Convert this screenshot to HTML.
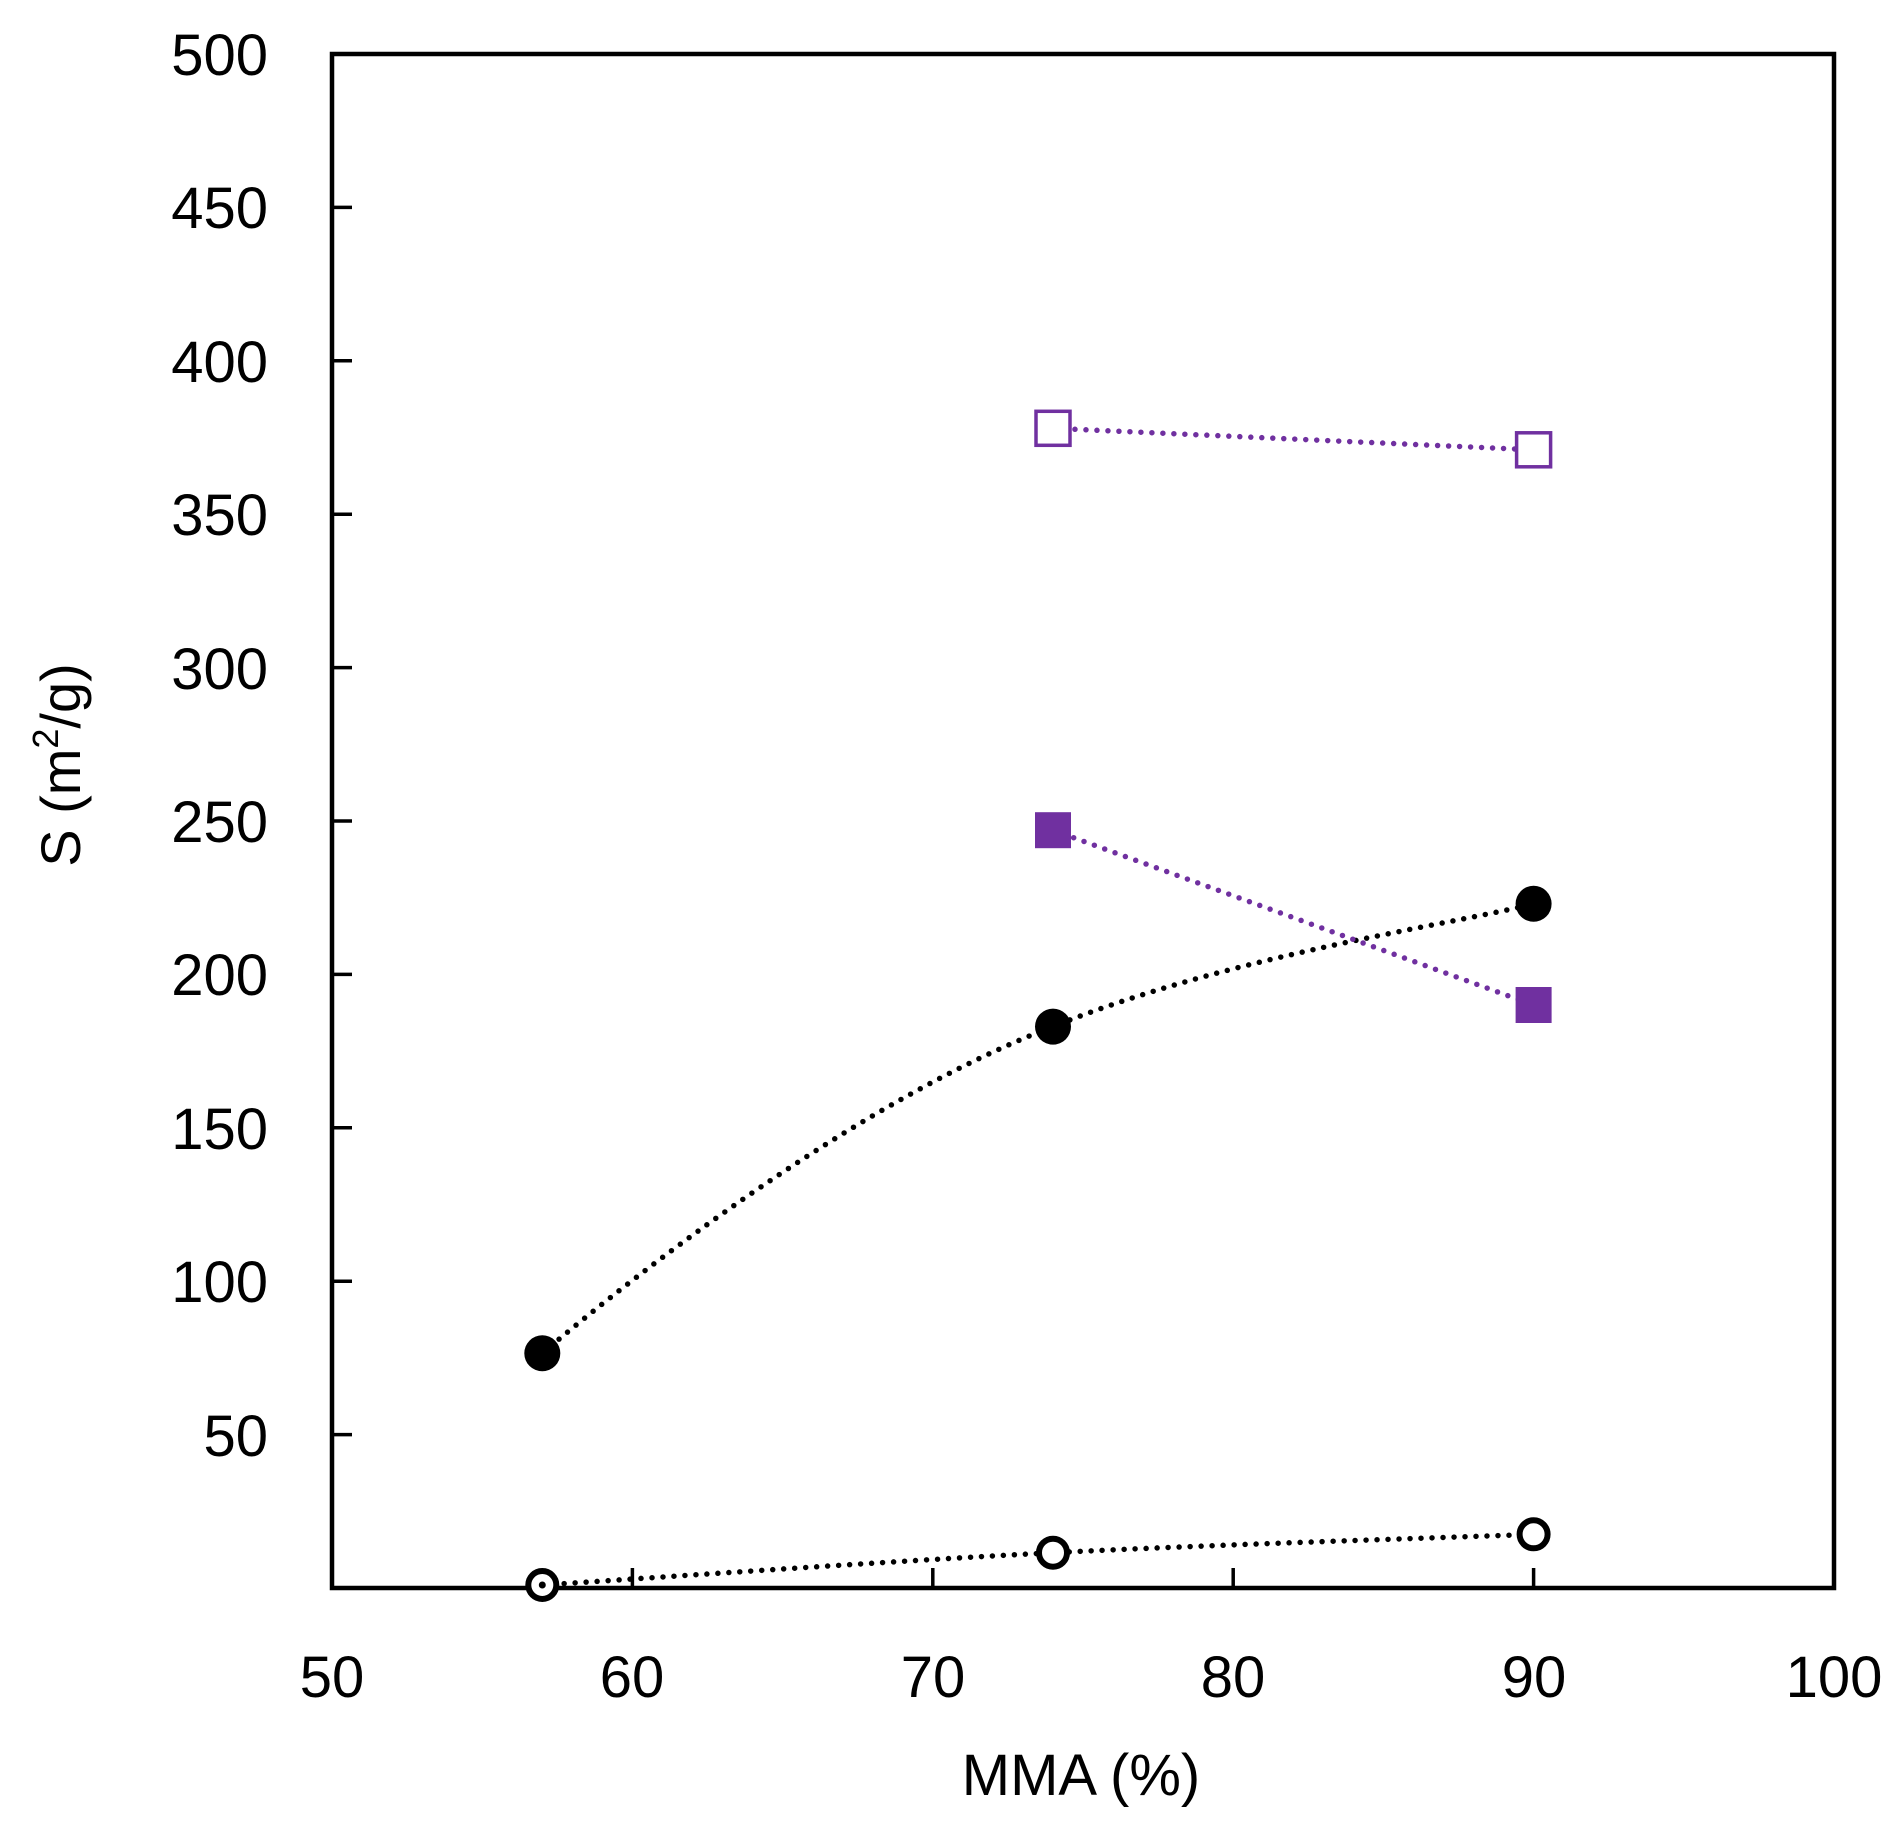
<!DOCTYPE html>
<html><head><style>body{margin:0;background:#fff}svg{display:block}</style></head>
<body>
<svg width="1904" height="1825" xmlns="http://www.w3.org/2000/svg" font-family="'Liberation Sans', sans-serif">
<rect width="1904" height="1825" fill="#fff"/>
<rect x="332" y="54" width="1502" height="1534" fill="none" stroke="#000" stroke-width="4.5"/>
<g stroke="#000" stroke-width="3.5">
<line x1="332" y1="207.4" x2="352" y2="207.4"/><line x1="332" y1="360.8" x2="352" y2="360.8"/>
<line x1="332" y1="514.2" x2="352" y2="514.2"/><line x1="332" y1="667.6" x2="352" y2="667.6"/>
<line x1="332" y1="821" x2="352" y2="821"/><line x1="332" y1="974.4" x2="352" y2="974.4"/>
<line x1="332" y1="1127.8" x2="352" y2="1127.8"/><line x1="332" y1="1281.2" x2="352" y2="1281.2"/>
<line x1="332" y1="1434.6" x2="352" y2="1434.6"/>
<line x1="632.4" y1="1588" x2="632.4" y2="1568"/><line x1="932.8" y1="1588" x2="932.8" y2="1568"/>
<line x1="1233.2" y1="1588" x2="1233.2" y2="1568"/><line x1="1533.6" y1="1588" x2="1533.6" y2="1568"/>
</g>
<g font-size="58" text-anchor="end" fill="#000">
<text x="268" y="75">500</text><text x="268" y="228">450</text><text x="268" y="382">400</text>
<text x="268" y="535">350</text><text x="268" y="689">300</text><text x="268" y="842">250</text>
<text x="268" y="995">200</text><text x="268" y="1149">150</text><text x="268" y="1302">100</text>
<text x="268" y="1456">50</text>
</g>
<g font-size="58" text-anchor="middle" fill="#000">
<text x="332" y="1697">50</text><text x="632" y="1697">60</text><text x="933" y="1697">70</text>
<text x="1233" y="1697">80</text><text x="1534" y="1697">90</text><text x="1834" y="1697">100</text>
<text x="1081" y="1795">MMA (%)</text>
</g>
<text transform="translate(80,765) rotate(-90)" font-size="56" text-anchor="middle">S (m<tspan font-size="36" dy="-22">2</tspan><tspan dy="22">/g)</tspan></text>
<g fill="none" stroke-width="5.5" stroke-linecap="round" stroke-dasharray="0 11">
<path stroke="#000" d="M542.3,1353.3 C640,1270 860,1100 1053,1026.6 C1230,955 1453.5,924.3 1533.6,903.8"/>
<path stroke="#000" d="M542.3,1585 C627.4,1579.6 887.8,1561.1 1053,1552.7 C1218.2,1544.3 1453.5,1537.4 1533.6,1534.3"/>
<path stroke="#7030A0" d="M1053,428.3 L1533.6,449.8"/>
<path stroke="#7030A0" d="M1053,830.2 L1533.6,1005"/>
</g>
<g fill="#000"><circle cx="542.3" cy="1353.3" r="18"/><circle cx="1053" cy="1026.6" r="18"/><circle cx="1533.6" cy="903.8" r="18"/></g>
<g fill="#fff" stroke="#000" stroke-width="6"><circle cx="542.3" cy="1585" r="14"/><circle cx="1053" cy="1552.7" r="14"/><circle cx="1533.6" cy="1534.3" r="14"/></g>
<g fill="#000"><circle cx="542.3" cy="1585" r="3.5"/></g>
<g fill="#7030A0"><rect x="1035" y="812.2" width="36" height="36"/><rect x="1515.6" y="987" width="36" height="36"/></g>
<g fill="#fff" stroke="#7030A0" stroke-width="3.5"><rect x="1036" y="411.3" width="34" height="34"/><rect x="1516.6" y="432.8" width="34" height="34"/></g>
</svg>
</body></html>
